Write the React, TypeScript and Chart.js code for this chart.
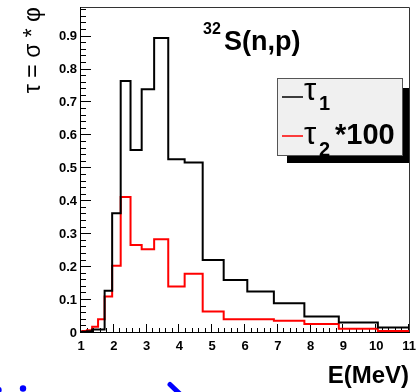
import React, { useEffect, useRef } from "react";
import { Chart, registerables } from "chart.js";

Chart.register(...registerables);

// ---- data ----
const binEdges = [0.92, 1.04, 1.18, 1.34, 1.52, 1.72, 1.95, 2.21, 2.51, 2.85, 3.23, 3.66, 4.16, 4.71, 5.35, 6.07, 6.88, 7.81, 8.86, 10.05, 11.4];
const tau1Values = [0.003, 0.004, 0.005, 0.011, 0.011, 0.128, 0.364, 0.765, 0.556, 0.740, 0.896, 0.528, 0.518, 0.222, 0.161, 0.126, 0.090, 0.050, 0.032, 0.017];
const tau2x100Values = [0.001, 0.006, 0.008, 0.019, 0.042, 0.111, 0.204, 0.413, 0.267, 0.254, 0.285, 0.141, 0.180, 0.065, 0.042, 0.042, 0.037, 0.027, 0.013, 0.006];
const seriesLabels = ["τ1", "τ2*100"];
const seriesColors = ["#000000", "#ff0000"];
const legendSymbols = ["τ", "τ"];
const legendSubscripts = ["1", "2"];
const legendSuffixes = ["", "*100"];
const xTickValues = [1, 2, 3, 4, 5, 6, 7, 8, 9, 10, 11];
const yTickValues = [0, 0.1, 0.2, 0.3, 0.4, 0.5, 0.6, 0.7, 0.8, 0.9];
const xRange = [1, 11];
const yRange = [0, 0.99];
const minorDivisions = 5;
const titleSup = "32";
const titleMain = "S(n,p)";
const xTitle = "E(MeV)";
const yTitle = "τ = σ * φ";

const FONT = "'Liberation Sans', Arial, Helvetica, sans-serif";

function histPoints(edges: number[], values: number[]) {
  const pts = values.map((v, i) => ({ x: edges[i], y: v }));
  pts.push({ x: edges[edges.length - 1], y: values[values.length - 1] });
  return pts;
}

const framePlugin = {
  id: "rootFrame",
  beforeDatasetsDraw(chart: any) {
    const { ctx, chartArea: a, scales } = chart;
    const xs = scales.x;
    const ys = scales.y;
    ctx.save();
    ctx.strokeStyle = "#333";
    ctx.lineWidth = 1;
    ctx.beginPath();
    ctx.moveTo(a.left - 0.5, a.top + 0.5);
    ctx.lineTo(a.right + 0.5, a.top + 0.5);
    ctx.lineTo(a.right + 0.5, a.bottom);
    ctx.stroke();
    ctx.strokeStyle = "#000";
    ctx.beginPath();
    ctx.moveTo(a.left - 0.5, a.top);
    ctx.lineTo(a.left - 0.5, a.bottom - 0.5);
    ctx.lineTo(a.right + 1, a.bottom - 0.5);
    ctx.stroke();
    ctx.beginPath();
    for (let i = 0; i < xTickValues.length; i++) {
      const v = xTickValues[i];
      const px = Math.round(xs.getPixelForValue(v)) - 0.5;
      ctx.moveTo(px, a.bottom);
      ctx.lineTo(px, a.bottom - 9);
      if (i < xTickValues.length - 1) {
        const step = (xTickValues[i + 1] - v) / minorDivisions;
        for (let k = 1; k < minorDivisions; k++) {
          const mx = Math.round(xs.getPixelForValue(v + k * step)) - 0.5;
          ctx.moveTo(mx, a.bottom);
          ctx.lineTo(mx, a.bottom - 5);
        }
      }
    }
    const yStep = (yTickValues[1] - yTickValues[0]) / minorDivisions;
    for (let i = 0; i < yTickValues.length; i++) {
      const v = yTickValues[i];
      const py = Math.round(ys.getPixelForValue(v)) - 0.5;
      ctx.moveTo(a.left, py);
      ctx.lineTo(a.left + 10, py);
      for (let k = 1; k < minorDivisions; k++) {
        const mv = v + k * yStep;
        if (mv > yRange[1]) break;
        const my = Math.round(ys.getPixelForValue(mv)) - 0.5;
        ctx.moveTo(a.left, my);
        ctx.lineTo(a.left + 5, my);
      }
    }
    ctx.stroke();
    ctx.restore();
  },
};

const annotationPlugin = {
  id: "rootText",
  afterDatasetsDraw(chart: any) {
    const { ctx } = chart;
    ctx.save();
    ctx.fillStyle = "#000";
    ctx.textBaseline = "alphabetic";
    ctx.textAlign = "left";
    ctx.font = `bold 16px ${FONT}`;
    ctx.fillText(titleSup, 203, 34);
    ctx.font = `bold 27px ${FONT}`;
    ctx.fillText(titleMain, 224, 50);

    const bx = 277, by = 78, bw = 126, bh = 78;
    ctx.fillStyle = "#000";
    ctx.fillRect(bx + 10, by + 10, 409 - (bx + 10), bh - 3);
    ctx.fillStyle = "#f0f0f0";
    ctx.fillRect(bx, by, bw, bh);
    ctx.strokeStyle = "#555";
    ctx.lineWidth = 1;
    ctx.strokeRect(bx + 0.5, by + 0.5, bw - 1, bh - 1);

    const lineYs = [97, 136];
    const baseYs = [100, 144];
    const subYs = [110, 156];
    chart.data.datasets.forEach((ds: any, i: number) => {
      ctx.strokeStyle = ds.borderColor;
      ctx.lineWidth = 1.5;
      ctx.beginPath();
      ctx.moveTo(282, lineYs[i]);
      ctx.lineTo(303, lineYs[i]);
      ctx.stroke();
      ctx.fillStyle = "#000";
      ctx.font = `31px ${FONT}`;
      ctx.fillText(legendSymbols[i], 304, baseYs[i]);
      ctx.font = `bold 20px ${FONT}`;
      ctx.fillText(legendSubscripts[i], 319, subYs[i]);
      if (legendSuffixes[i]) {
        ctx.font = `bold 29px ${FONT}`;
        ctx.fillText(legendSuffixes[i], 335, baseYs[i]);
      }
    });

    ctx.restore();
  },
  afterDraw(chart: any) {
    const { ctx } = chart;
    ctx.save();
    ctx.fillStyle = "#0000ff";
    ctx.beginPath();
    ctx.arc(23, 388.5, 3.2, 0, Math.PI * 2);
    ctx.fill();
    ctx.beginPath();
    ctx.arc(-1.5, 390, 3.2, 0, Math.PI * 2);
    ctx.fill();
    ctx.strokeStyle = "#0000ff";
    ctx.lineWidth = 5;
    ctx.lineCap = "round";
    ctx.beginPath();
    ctx.moveTo(170, 384.5);
    ctx.lineTo(181, 395);
    ctx.stroke();
    ctx.restore();
  },
};

export default function App() {
  const canvasRef = useRef<HTMLCanvasElement | null>(null);

  useEffect(() => {
    const canvas = canvasRef.current;
    if (!canvas) return;
    const chart = new Chart(canvas, {
      type: "line",
      data: {
        datasets: [
          {
            label: seriesLabels[0],
            data: histPoints(binEdges, tau1Values),
            borderColor: seriesColors[0],
            borderWidth: 2,
            stepped: "before",
            pointRadius: 0,
            fill: false,
          },
          {
            label: seriesLabels[1],
            data: histPoints(binEdges, tau2x100Values),
            borderColor: seriesColors[1],
            borderWidth: 2,
            stepped: "before",
            pointRadius: 0,
            fill: false,
          },
        ],
      },
      options: {
        animation: false,
        responsive: false,
        devicePixelRatio: 1,
        layout: { padding: { left: 0, right: 10, top: 7, bottom: 0 } },
        plugins: {
          legend: { display: false },
          tooltip: { enabled: false },
          title: { display: false },
        },
        scales: {
          x: {
            type: "linear",
            min: xRange[0],
            max: xRange[1],
            grid: { display: false, drawTicks: false },
            border: { display: false },
            ticks: {
              color: "#000",
              font: { family: FONT, size: 13, weight: "bold" },
              padding: 6,
              maxRotation: 0,
              autoSkip: false,
              callback: (v: any) => String(v),
            },
            afterBuildTicks: (s: any) => {
              s.ticks = xTickValues.map((v) => ({ value: v }));
            },
            afterFit: (s: any) => {
              s.height = 59;
              s.paddingLeft = 0;
              s.paddingRight = 0;
            },
            title: {
              display: true,
              text: xTitle,
              align: "end",
              color: "#000",
              font: { family: FONT, size: 24, weight: "bold" },
              padding: { top: 0, bottom: 1 },
            },
          },
          y: {
            type: "linear",
            min: yRange[0],
            max: yRange[1],
            grid: { display: false, drawTicks: false },
            border: { display: false },
            ticks: {
              color: "#000",
              font: { family: FONT, size: 13, weight: "bold" },
              padding: 4,
              autoSkip: false,
              callback: (v: any) => (v === 0 ? "0" : Number(v).toFixed(1)),
            },
            afterBuildTicks: (s: any) => {
              s.ticks = yTickValues.map((v) => ({ value: v }));
            },
            afterFit: (s: any) => {
              s.width = 81;
              s.paddingTop = 0;
              s.paddingBottom = 0;
            },
            title: {
              display: true,
              text: yTitle,
              align: "end",
              color: "#000",
              font: { family: FONT, size: 23, weight: "normal" },
              padding: { top: 20, bottom: 0 },
            },
          },
        },
      },
      plugins: [framePlugin, annotationPlugin],
    } as any);
    return () => chart.destroy();
  }, []);

  return (
    <div style={{ position: "fixed", left: 0, top: 0, width: 419, height: 392, background: "#fff" }}>
      <canvas ref={canvasRef} width={419} height={392} style={{ width: 419, height: 392, display: "block" }} />
    </div>
  );
}
